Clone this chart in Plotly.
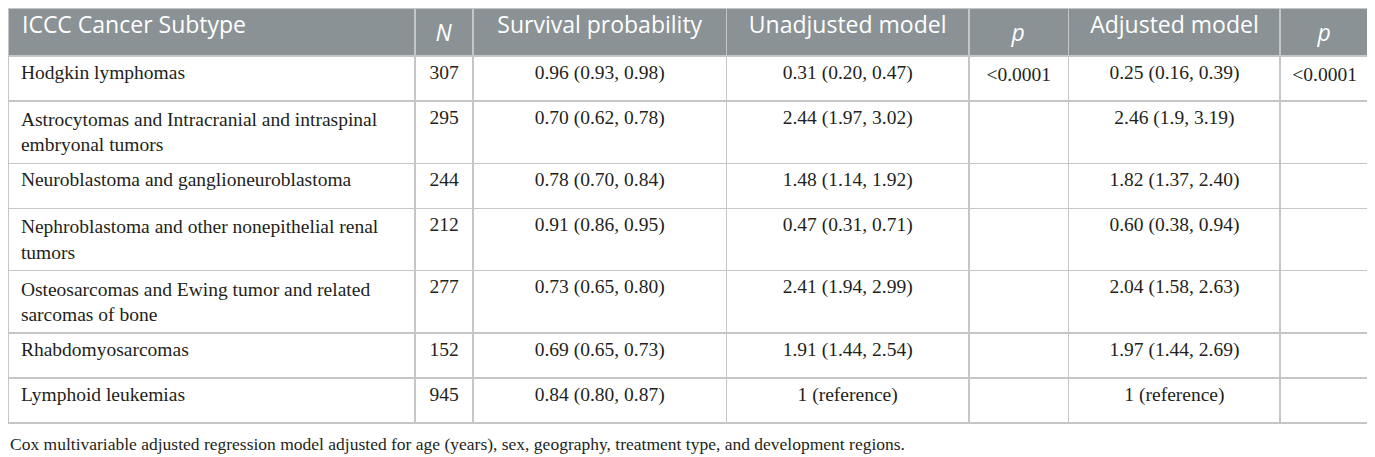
import plotly.graph_objects as go

# table contents
headers = ["ICCC Cancer Subtype", "<i>N</i>", "Survival probability",
           "Unadjusted model", "<i>p</i>", "Adjusted model", "<i>p</i>"]

subtypes = [
    "Hodgkin lymphomas",
    "Astrocytomas and Intracranial and intraspinal<br>embryonal tumors",
    "Neuroblastoma and ganglioneuroblastoma",
    "Nephroblastoma and other nonepithelial renal<br>tumors",
    "Osteosarcomas and Ewing tumor and related<br>sarcomas of bone",
    "Rhabdomyosarcomas",
    "Lymphoid leukemias",
]
n_cases = [307, 295, 244, 212, 277, 152, 945]
survival = ["0.96 (0.93, 0.98)", "0.70 (0.62, 0.78)", "0.78 (0.70, 0.84)",
            "0.91 (0.86, 0.95)", "0.73 (0.65, 0.80)", "0.69 (0.65, 0.73)",
            "0.84 (0.80, 0.87)"]
unadjusted = ["0.31 (0.20, 0.47)", "2.44 (1.97, 3.02)", "1.48 (1.14, 1.92)",
              "0.47 (0.31, 0.71)", "2.41 (1.94, 2.99)", "1.91 (1.44, 2.54)",
              "1 (reference)"]
p_unadj = ["<0.0001", "", "", "", "", "", ""]
adjusted = ["0.25 (0.16, 0.39)", "2.46 (1.9, 3.19)", "1.82 (1.37, 2.40)",
            "0.60 (0.38, 0.94)", "2.04 (1.58, 2.63)", "1.97 (1.44, 2.69)",
            "1 (reference)"]
p_adj = ["<0.0001", "", "", "", "", "", ""]

footnote = ("Cox multivariable adjusted regression model adjusted for age (years), sex, "
            "geography, treatment type, and development regions.")

line_col = "#c4c6c8"
header_col = "#8b9296"
text_col = "#231f20"
serif = "Liberation Serif"

# a little extra indent for the left-aligned first column
pad = "\u00a0"
header_cells = [pad + headers[0]] + headers[1:]
subtype_cells = [pad + s.replace("<br>", "<br>" + pad) for s in subtypes]

fig = go.Figure(go.Table(
    columnwidth=[408, 58, 254, 243, 100, 212, 89],
    header=dict(
        values=header_cells,
        fill_color=header_col,
        line=dict(color=line_col, width=1.5),
        align=["left"] + ["center"] * 6,
        font=dict(family="Open Sans", size=23, color="white"),
        height=45,
    ),
    cells=dict(
        values=[subtype_cells, n_cases, survival, unadjusted, p_unadj, adjusted, p_adj],
        fill_color="white",
        line=dict(color=line_col, width=1.5),
        align=["left"] + ["center"] * 6,
        font=dict(family=serif, size=19.5, color=text_col),
        height=45,
    ),
))

fig.add_annotation(
    text=footnote, xref="paper", yref="paper", x=0, y=0,
    xanchor="left", yanchor="top", yshift=-3, showarrow=False,
    font=dict(family=serif, size=17.5, color=text_col),
)

fig.update_layout(
    width=1367, height=449,
    margin=dict(l=0, r=6, t=0, b=28),
    paper_bgcolor="white",
)

fig.write_html("out.html")
